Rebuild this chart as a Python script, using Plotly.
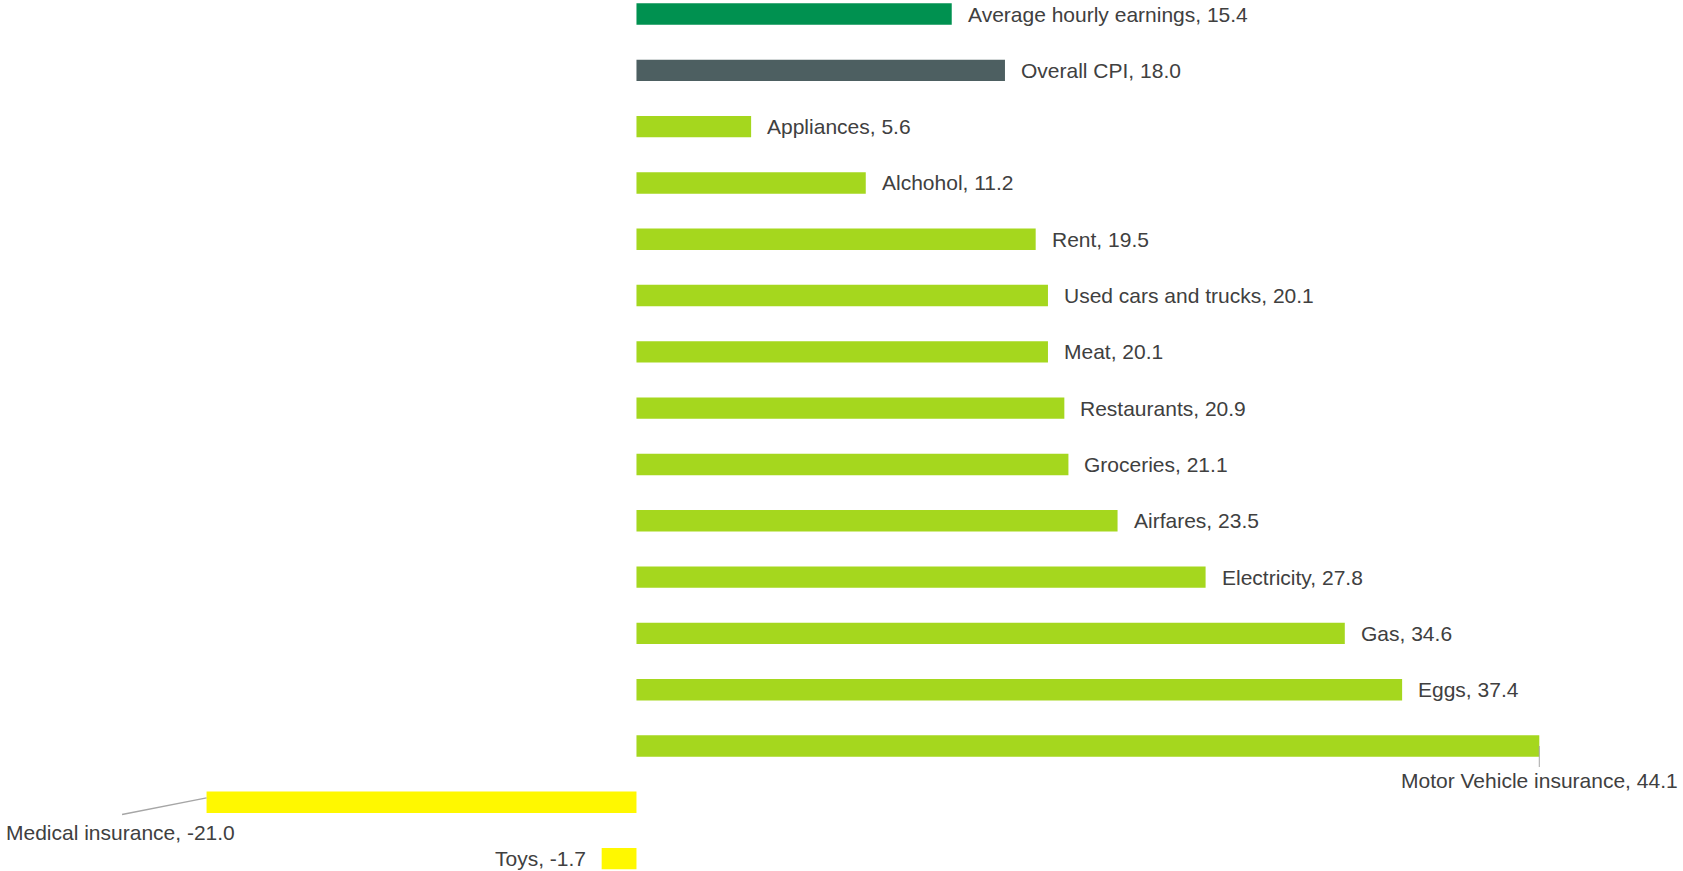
import plotly.graph_objects as go

# Price changes by category (percent)
categories = [
    "Average hourly earnings", "Overall CPI", "Appliances", "Alchohol", "Rent",
    "Used cars and trucks", "Meat", "Restaurants", "Groceries", "Airfares",
    "Electricity", "Gas", "Eggs", "Motor Vehicle insurance", "Medical insurance", "Toys",
]
values = [15.4, 18.0, 5.6, 11.2, 19.5, 20.1, 20.1, 20.9, 21.1, 23.5, 27.8, 34.6, 37.4, 44.1, -21.0, -1.7]
colors = ["#009150", "#4D5F61"] + ["#A5D71E"] * 12 + ["#FFF800"] * 2

positions = list(range(len(categories)))
label_font = dict(family="Liberation Sans, Arial", size=21, color="#404040")
leader = dict(arrowhead=0, arrowcolor="#A6A6A6", showarrow=True, text="")

fig = go.Figure(go.Bar(
    x=values, y=positions, orientation="h", width=0.38,
    marker=dict(color=colors, line=dict(width=0)),
    hoverinfo="skip",
))

annotations = []
for i, (name, v) in enumerate(zip(categories, values)):
    text = f"{name}, {v:.1f}"
    if name == "Motor Vehicle insurance":
        # label centred below the bar end, joined by a short vertical leader
        annotations.append(dict(x=v, y=i, xref="x", yref="y", text=text, showarrow=True,
                                arrowhead=0, arrowwidth=1, arrowcolor="#A6A6A6",
                                ax=0, ay=34, font=label_font))
    elif name == "Medical insurance":
        # slanted leader from the bar's left end, label below-left
        annotations.append(dict(x=v, y=i - 0.08, xref="x", yref="y", ax=-86, ay=17,
                                arrowwidth=1.3, **leader))
        annotations.append(dict(x=v, y=i, xref="x", yref="y", text=text, showarrow=False,
                                xanchor="center", yanchor="middle",
                                xshift=-86, yshift=-30, font=label_font))
    elif v < 0:
        annotations.append(dict(x=v, y=i, xref="x", yref="y", text=text, showarrow=False,
                                xanchor="right", xshift=-14, font=label_font))
    else:
        annotations.append(dict(x=v, y=i, xref="x", yref="y", text=text, showarrow=False,
                                xanchor="left", xshift=14, font=label_font))

fig.update_layout(
    width=1683, height=871,
    margin=dict(l=0, r=0, t=0, b=0),
    paper_bgcolor="white", plot_bgcolor="white",
    showlegend=False,
    annotations=annotations,
    xaxis=dict(range=[-31.09, 51.12], visible=False, fixedrange=True),
    yaxis=dict(range=[15.22, -0.249], visible=False, fixedrange=True),
)

fig.write_html("out.html", config={"displayModeBar": False})
